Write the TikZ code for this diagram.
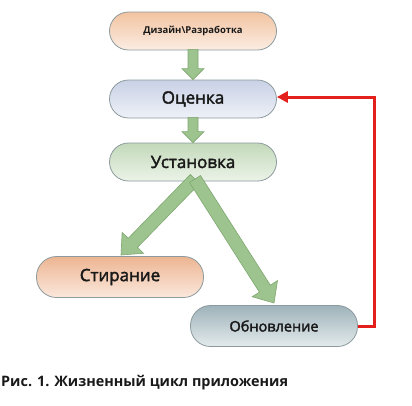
\documentclass[tikz,border=0pt]{standalone}
\usepackage{fontspec}
\setmainfont{Open Sans}
\newfontfamily\semib[FakeBold=2.2]{Open Sans}
\usetikzlibrary{calc,arrows.meta}
\definecolor{edgegray}{HTML}{8C9A9E}
\definecolor{arrfill}{HTML}{9DC38E}
\definecolor{arredge}{HTML}{7FA870}
\definecolor{redline}{HTML}{E3201B}
\definecolor{dtop}{HTML}{F2C3A0}\definecolor{dbot}{HTML}{FBEDE3}
\definecolor{otop}{HTML}{C9D1E6}\definecolor{obot}{HTML}{EEF1F7}
\definecolor{utop}{HTML}{C3D9BA}\definecolor{ubot}{HTML}{EBF3E8}
\definecolor{stop}{HTML}{EDB592}\definecolor{sbot}{HTML}{FAE8DC}
\definecolor{btop}{HTML}{9FB3BA}\definecolor{bbot}{HTML}{E3EAEC}
\tikzset{
  stage/.style={draw=edgegray, line width=0.8pt, rounded corners=19pt, minimum width=167pt, minimum height=38pt, inner sep=0pt, text=black!90, shading=axis},
  fatarr/.style={fill=arrfill, draw=arredge, line width=0.6pt, line join=miter},
  feedback/.style={draw=redline, line width=3pt, -{Triangle[length=11pt,width=11pt]}},
}
\newcommand\fatarrow[5]{% start, end, half shaft, half head, head length
  \coordinate (fah) at ($(#2)!#5!(#1)$);
  \draw[fatarr] ($(#1)!#3!90:(#2)$) -- ($(fah)!#3!-90:(#1)$) -- ($(fah)!#4!-90:(#1)$) -- (#2)
    -- ($(fah)!#4!90:(#1)$) -- ($(fah)!#3!90:(#1)$) -- ($(#1)!#3!-90:(#2)$) -- cycle;}
\begin{document}
\begin{tikzpicture}[x=1pt,y=-1pt]
\useasboundingbox (0,0) rectangle (412,405);
\node[stage, top color=dtop, bottom color=dbot, font=\fontsize{9.5}{12}\selectfont\bfseries] (d) at (193,31) {Дизайн\textbackslash Разработка};
\node[stage, top color=otop, bottom color=obot, font=\semib\fontsize{17}{19}\selectfont] (o) at (193,99) {Оценка};
\node[stage, top color=utop, bottom color=ubot, font=\semib\fontsize{17}{19}\selectfont] (u) at (193,162) {Установка};
\node[stage, top color=stop, bottom color=sbot, font=\semib\fontsize{17}{19}\selectfont, minimum height=41pt, rounded corners=20pt] (s) at (120,277) {Стирание};
\node[stage, top color=btop, bottom color=bbot, font=\semib\fontsize{14.5}{16}\selectfont, minimum height=41pt, rounded corners=20pt] (ob) at (274,326) {Обновление};
\node[anchor=west, font=\fontsize{14.4}{17}\selectfont\bfseries, text=black!90, inner sep=0pt] (cap) at (1,383) {Рис. 1. Жизненный цикл приложения};
\coordinate (a1s) at ($(d.south)+(0,-1)$);
\coordinate (a1e) at ($(o.north)$);
\fatarrow{a1s}{a1e}{5pt}{11pt}{11pt}
\coordinate (a2s) at ($(o.south)+(0,-1)$);
\coordinate (a2e) at ($(u.north)$);
\fatarrow{a2s}{a2e}{5pt}{11pt}{11pt}
\coordinate (us) at (195,179);
\coordinate (ls) at (121,255);
\coordinate (rs) at (274,303);
\fatarrow{us}{ls}{6.5pt}{15pt}{17pt}
\fatarrow{us}{rs}{6.5pt}{15pt}{17pt}
\coordinate (c1) at (374,326);
\coordinate (c2) at (374,97);
\draw[feedback] (ob.east) -- (c1) -- (c2) -- ($(o.east)+(0,-2)$);
\end{tikzpicture}
\end{document}
